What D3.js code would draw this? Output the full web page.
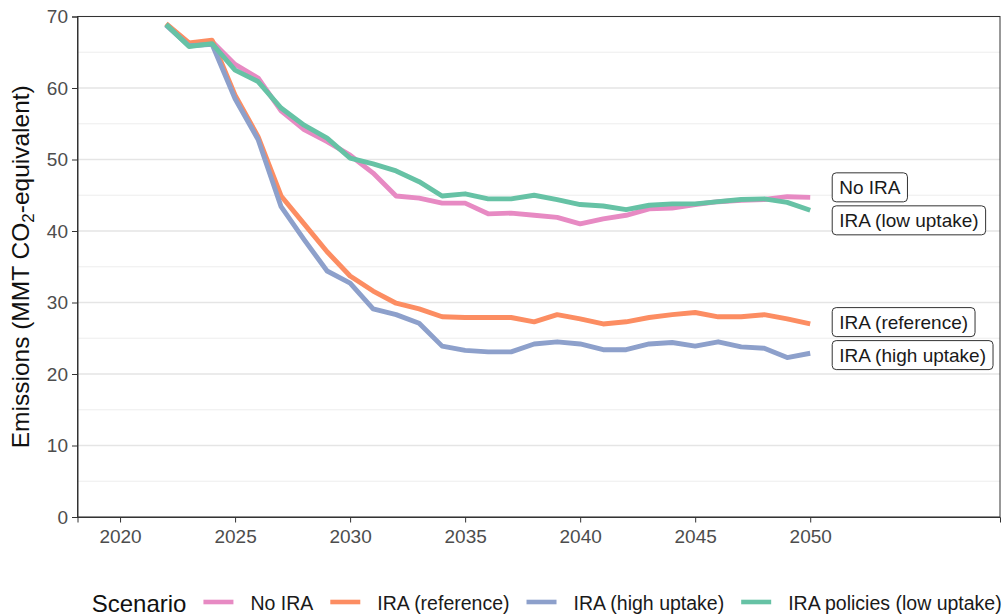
<!DOCTYPE html>
<html>
<head>
<meta charset="utf-8">
<script src="https://cdn.jsdelivr.net/npm/d3@7"></script>
<style>
  html, body { margin: 0; padding: 0; background: #fff; }
  svg { display: block; font-family: "Liberation Sans", Arial, sans-serif; }
</style>
</head>
<body>
<svg id="chart" width="1002" height="616"></svg>
<script>
const years = d3.range(2022, 2051);
const seriesNames = ["No IRA", "IRA (reference)", "IRA (high uptake)", "IRA policies (low uptake)"];
const labelNames = ["No IRA", "IRA (reference)", "IRA (high uptake)", "IRA (low uptake)"];
const colors = ["#E78AC3", "#FC8D62", "#8DA0CB", "#66C2A5"];

const noIRA = [68.9, 66.2, 66.5, 63.3, 61.4, 56.8, 54.2, 52.5, 50.6, 48.1, 44.9, 44.6, 43.9, 43.9, 42.4, 42.5, 42.2, 41.9, 41.0, 41.7, 42.2, 43.1, 43.2, 43.7, 44.1, 44.3, 44.4, 44.8, 44.7];
const iraReference = [69.0, 66.3, 66.7, 59.0, 53.2, 44.9, 41.0, 37.1, 33.7, 31.6, 29.9, 29.1, 28.0, 27.9, 27.9, 27.9, 27.3, 28.3, 27.7, 27.0, 27.3, 27.9, 28.3, 28.6, 28.0, 28.0, 28.3, 27.7, 27.0];
const iraHigh = [68.8, 65.9, 66.1, 58.5, 52.8, 43.4, 38.8, 34.4, 32.7, 29.1, 28.3, 27.1, 23.9, 23.3, 23.1, 23.1, 24.2, 24.5, 24.2, 23.4, 23.4, 24.2, 24.4, 23.9, 24.5, 23.8, 23.6, 22.3, 22.9];
const iraLow = [68.9, 65.8, 66.2, 62.5, 60.9, 57.2, 54.8, 53.0, 50.2, 49.4, 48.4, 46.9, 44.9, 45.2, 44.5, 44.5, 45.0, 44.4, 43.7, 43.5, 43.0, 43.6, 43.8, 43.8, 44.1, 44.4, 44.5, 44.0, 42.9];

const xTicks = [2020, 2025, 2030, 2035, 2040, 2045, 2050];
const yTicks = [0, 10, 20, 30, 40, 50, 60, 70];
const yMinor = [5, 15, 25, 35, 45, 55, 65];

const seriesValues = [noIRA, iraReference, iraHigh, iraLow];

const svg = d3.select("#chart");
const L = 77.5, R = 1000, T = 16.5, B = 517;

const x = d3.scaleLinear().domain([2018.15, 2058.25]).range([L, R]);
const y = d3.scaleLinear().domain([0, 70]).range([B, T]);

// gridlines
const grid = svg.append("g");
grid.selectAll("line.minor").data(yMinor).join("line")
  .attr("x1", L).attr("x2", R)
  .attr("y1", d => y(d)).attr("y2", d => y(d))
  .attr("stroke", "#ebebeb").attr("stroke-width", 0.9);
grid.selectAll("line.major").data(yTicks).join("line")
  .attr("x1", L).attr("x2", R)
  .attr("y1", d => y(d)).attr("y2", d => y(d))
  .attr("stroke", "#e5e5e5").attr("stroke-width", 1.3);

// lines
const line = d3.line().x((d, i) => x(years[i])).y(d => y(d));
svg.append("g").selectAll("path").data(seriesValues).join("path")
  .attr("d", d => line(d))
  .attr("fill", "none")
  .attr("stroke", (d, i) => colors[i])
  .attr("stroke-width", 4.9)
  .attr("stroke-linejoin", "round");

// panel border
svg.append("rect").attr("x", L).attr("y", T).attr("width", R - L).attr("height", B - T)
  .attr("fill", "none").attr("stroke", "#333").attr("stroke-width", 1);

// axes
const xAxis = svg.append("g").attr("transform", `translate(0,${B})`)
  .call(d3.axisBottom(x).tickValues(xTicks).tickFormat(d3.format("d")).tickSize(5.5).tickPadding(7));
const yAxis = svg.append("g").attr("transform", `translate(${L},0)`)
  .call(d3.axisLeft(y).tickValues(yTicks).tickSize(5.5).tickPadding(4));
[xAxis, yAxis].forEach(a => {
  a.select(".domain").attr("stroke", "#333");
  a.selectAll(".tick line").attr("stroke", "#333").attr("stroke-width", 1);
  a.selectAll(".tick text").attr("fill", "#4d4d4d").style("font-size", "19px")
    .style("font-family", "'Liberation Sans', Arial, sans-serif");
});

// y-axis title
const yt = svg.append("text")
  .attr("transform", `translate(29,${(T + B) / 2}) rotate(-90)`)
  .attr("text-anchor", "middle")
  .style("font-size", "24.5px").attr("fill", "#111");
yt.append("tspan").text("Emissions (MMT CO");
yt.append("tspan").text("2").attr("dy", 5).style("font-size", "17px");
yt.append("tspan").text("-equivalent)").attr("dy", -5);

// direct labels with simple repel
const labelData = seriesValues.map((v, i) => ({ name: labelNames[i], yy: y(v[v.length - 1]) }));
labelData.sort((a, b) => a.yy - b.yy);
const minGap = 33;
for (let iter = 0; iter < 50; iter++) {
  for (let k = 1; k < labelData.length; k++) {
    const a = labelData[k - 1], b = labelData[k];
    const gap = b.yy - a.yy;
    if (gap < minGap) {
      const push = (minGap - gap) / 2;
      a.yy -= push; b.yy += push;
    }
  }
}
const boxH = 29, padX = 7;
const lx = x(2050) + 22;
const lg = svg.append("g");
labelData.forEach(d => {
  const g = lg.append("g");
  const t = g.append("text").attr("x", lx + padX).attr("y", d.yy + 7)
    .style("font-size", "19px").attr("fill", "#1a1a1a").text(d.name);
  const w = t.node().getComputedTextLength();
  g.insert("rect", "text").attr("x", lx).attr("y", d.yy - boxH / 2)
    .attr("width", w + 2 * padX).attr("height", boxH)
    .attr("rx", 4).attr("ry", 4)
    .attr("fill", "#fff").attr("stroke", "#333").attr("stroke-width", 1);
});

// legend
const legY = 603;
const lgd = svg.append("g");
let cx = 91.7;
const title = lgd.append("text").attr("x", cx).attr("y", legY + 8.5)
  .style("font-size", "24px").attr("fill", "#111").text("Scenario");
cx += title.node().getComputedTextLength() + 17;
seriesNames.forEach((n, i) => {
  lgd.append("line").attr("x1", cx).attr("x2", cx + 30)
    .attr("y1", legY - 1).attr("y2", legY - 1)
    .attr("stroke", colors[i]).attr("stroke-width", 4.6);
  cx += 30 + 17;
  const t = lgd.append("text").attr("x", cx).attr("y", legY + 7)
    .style("font-size", "19.5px").attr("fill", "#1a1a1a").text(n);
  cx += t.node().getComputedTextLength() + 17;
});
</script>
</body>
</html>
